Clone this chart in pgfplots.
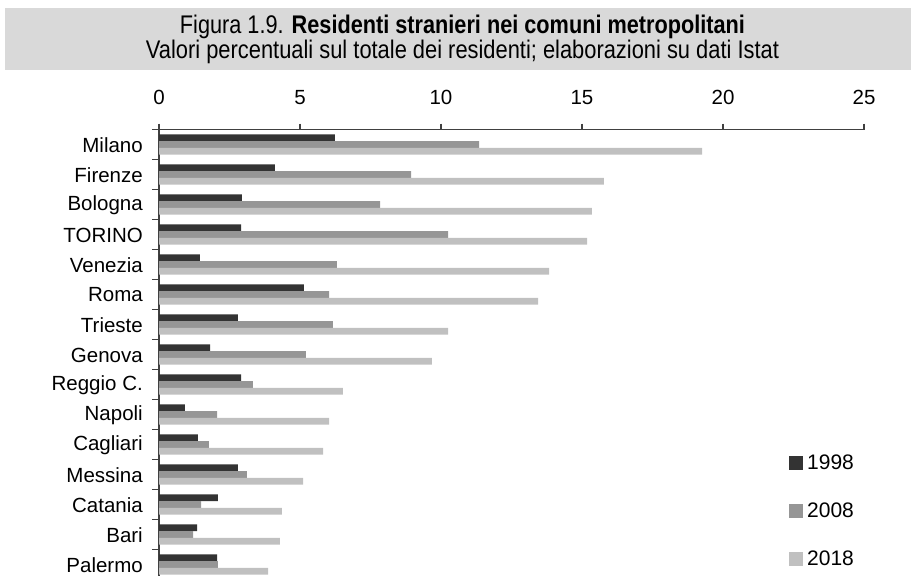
\documentclass[border=0pt]{standalone}
\usepackage{pgfplots}
\pgfplotsset{compat=1.18}
\usepackage{pgfplotstable}
\usepackage{fontspec}
\setmainfont{Liberation Sans}
\definecolor{c98}{HTML}{333333}
\definecolor{c08}{HTML}{969696}
\definecolor{c18}{HTML}{C0C0C0}
\definecolor{band}{HTML}{D9D9D9}
\definecolor{axgray}{HTML}{404040}

\pgfplotstableread{
idx v98 v08 v18
0 6.24 11.35 19.26
1 4.11 8.94 15.78
2 2.94 7.84 15.35
3 2.91 10.25 15.18
4 1.45 6.31 13.83
5 5.14 6.03 13.44
6 2.80 6.17 10.25
7 1.81 5.21 9.68
8 2.91 3.33 6.52
9 0.92 2.06 6.03
10 1.38 1.77 5.82
11 2.80 3.12 5.11
12 2.09 1.49 4.36
13 1.35 1.21 4.29
14 2.06 2.09 3.87
}\datatable

\begin{document}
\begin{tikzpicture}[x=1pt,y=1pt]
\path[use as bounding box] (0,0) rectangle (911,-576);
\fill[band] (5,-8) rectangle (911,-70);
\node[anchor=base,inner sep=0pt] at (462.5,-33) {\resizebox{565pt}{\height}{\fontsize{25.5}{30}\selectfont Figura 1.9. \textbf{Residenti stranieri nei comuni metropolitani}}};
\node[anchor=base,inner sep=0pt] at (462.5,-58) {\resizebox{633pt}{\height}{\fontsize{25.5}{30}\selectfont Valori percentuali sul totale dei residenti; elaborazioni su dati Istat}};
\begin{axis}[
  at={(159pt,-129.5pt)}, anchor=north west,
  scale only axis, width=705pt, height=450pt,
  xbar, bar width=6.8pt,
  xmin=0, xmax=25, ymin=-0.5, ymax=14.5, y dir=reverse,
  axis x line*=top, axis y line*=left,
  axis line style={-, axgray, line width=1.4pt},
  xtick={0,5,10,15,20,25},
  ytick={0,...,14},
  yticklabels={Milano,Firenze,Bologna,TORINO,Venezia,Roma,Trieste,Genova,Reggio C.,Napoli,Cagliari,Messina,Catania,Bari,Palermo},
  minor ytick={-0.5,0.5,...,14.5},
  tick align=outside,
  major tick length=6pt, minor tick length=7pt,
  major x tick style={axgray, line width=1.2pt},
  major y tick style={draw=none},
  minor y tick style={axgray, line width=1.2pt},
  /pgf/number format/assume math mode=true,
  xticklabel style={font=\fontsize{20.5}{24}\selectfont, inner sep=0pt, yshift=19pt},
  yticklabel style={font=\fontsize{20.5}{24}\selectfont, inner sep=0pt, xshift=-10pt, yshift=-0.5pt},
  legend style={at={(axis description cs:0.8936,0.2776)}, anchor=north west, draw=none, fill=none,
    inner sep=0pt, row sep=31.8pt, column sep=4pt,
    nodes={inner sep=0pt, font=\fontsize{21}{24}\selectfont}},
  legend cell align=left,
  legend image code/.code={\fill[#1,draw=none] (0pt,-7pt) rectangle (14pt,7pt);},
]
\addplot[fill=c98, draw=none, bar shift=6.8pt] table[x=v98,y=idx] {\datatable};
\addplot[fill=c08, draw=none, bar shift=0pt] table[x=v08,y=idx] {\datatable};
\addplot[fill=c18, draw=none, bar shift=-6.8pt] table[x=v18,y=idx] {\datatable};
\legend{1998,2008,2018}
\end{axis}
\end{tikzpicture}
\end{document}
